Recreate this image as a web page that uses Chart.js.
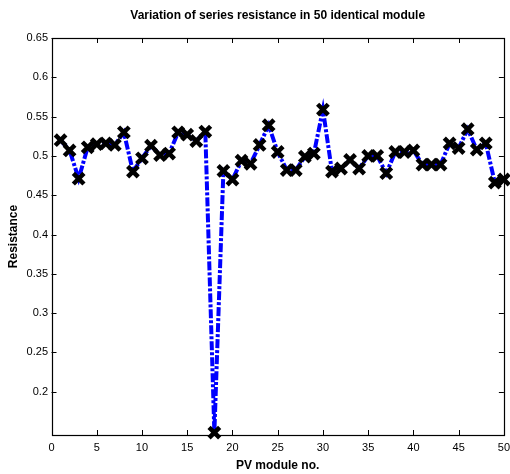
<!DOCTYPE html>
<html>
<head>
<meta charset="utf-8">
<script src="https://cdn.jsdelivr.net/npm/chart.js@4/dist/chart.umd.min.js"></script>
<style>
html,body{margin:0;padding:0;background:#fff;}
#wrap{width:510px;height:474px;}
</style>
</head>
<body>
<div id="wrap"><canvas id="c" width="510" height="474"></canvas></div>
<script>
const titleText = "Variation of series resistance in 50 identical module";
const xTitle = "PV module no.";
const yTitle = "Resistance";
const moduleNo = [1,2,3,4,5,6,7,8,9,10,11,12,13,14,15,16,17,18,19,20,21,22,23,24,25,26,27,28,29,30,31,32,33,34,35,36,37,38,39,40,41,42,43,44,45,46,47,48,49,50];
const resistance = [0.520,0.507,0.471,0.511,0.515,0.516,0.514,0.530,0.480,0.497,
                    0.513,0.501,0.503,0.530,0.527,0.519,0.531,0.148,0.481,0.470,
                    0.494,0.490,0.514,0.539,0.505,0.482,0.482,0.499,0.503,0.559,
                    0.480,0.484,0.495,0.484,0.500,0.500,0.478,0.505,0.505,0.507,
                    0.489,0.489,0.489,0.516,0.510,0.534,0.508,0.516,0.466,0.470];
const xTicks = [0,5,10,15,20,25,30,35,40,45,50];
const yTicks = [0.2,0.25,0.3,0.35,0.4,0.45,0.5,0.55,0.6,0.65];
const xRange = [0, 50];
const yRange = [0.145, 0.65];

Chart.defaults.font.family = "'Liberation Sans', Arial, sans-serif";
Chart.defaults.color = '#000';

const framePlugin = {
  id: 'frame',
  afterDatasetsDraw(chart) {
    const ctx = chart.ctx;
    const a = chart.chartArea;
    const xs = chart.scales.x, ys = chart.scales.y;
    const L = 5;
    ctx.save();
    ctx.strokeStyle = '#000';
    ctx.lineWidth = 1;
    ctx.beginPath();
    xTicks.forEach(v => {
      const px = Math.round(xs.getPixelForValue(v)) + 0.5;
      ctx.moveTo(px, a.bottom); ctx.lineTo(px, a.bottom - L);
      ctx.moveTo(px, a.top); ctx.lineTo(px, a.top + L);
    });
    yTicks.forEach(v => {
      const py = Math.round(ys.getPixelForValue(v)) + 0.5;
      ctx.moveTo(a.left, py); ctx.lineTo(a.left + L, py);
      ctx.moveTo(a.right, py); ctx.lineTo(a.right - L, py);
    });
    ctx.stroke();
    ctx.lineWidth = 1.2;
    ctx.strokeRect(Math.round(a.left) + 0.5, Math.round(a.top) + 0.5,
                   Math.round(a.right - a.left), Math.round(a.bottom - a.top));
    ctx.restore();
  }
};

new Chart(document.getElementById('c'), {
  type: 'line',
  data: {
    datasets: [{
      data: moduleNo.map((m, i) => ({x: m, y: resistance[i]})),
      borderColor: '#0000ff',
      borderWidth: 4,
      borderDash: [9, 2, 3, 2],
      tension: 0,
      fill: false,
      clip: false,
      pointStyle: 'crossRot',
      pointRadius: 7.5,
      pointHoverRadius: 7.5,
      pointBorderColor: '#000',
      pointBackgroundColor: '#000',
      pointBorderWidth: 4.5
    }]
  },
  options: {
    responsive: false,
    animation: false,
    devicePixelRatio: 1,
    layout: { autoPadding: false, padding: { left: 0, right: 1, top: 0, bottom: 0 } },
    plugins: {
      legend: { display: false },
      tooltip: { enabled: false },
      title: {
        display: true,
        text: titleText,
        fullSize: false,
        color: '#000',
        font: { size: 12, weight: 'bold' },
        padding: { top: 8, bottom: 15.6 }
      }
    },
    scales: {
      x: {
        type: 'linear',
        min: xRange[0], max: xRange[1],
        afterBuildTicks: s => { s.ticks = xTicks.map(v => ({value: v})); },
        afterFit: s => { s.height = 39; },
        grid: { display: false, drawTicks: true, tickLength: 6 },
        border: { display: false },
        ticks: { padding: 0, maxRotation: 0, autoSkip: false, font: { size: 11 }, color: '#000',
                 callback: v => String(v) },
        title: { display: true, text: xTitle, font: { size: 12, weight: 'bold' }, color: '#000',
                 padding: { top: 0, bottom: 1 } }
      },
      y: {
        type: 'linear',
        min: yRange[0], max: yRange[1],
        afterBuildTicks: s => { s.ticks = yTicks.map(v => ({value: v})); },
        afterFit: s => { s.width = 51.5; },
        grid: { display: false, drawTicks: false },
        border: { display: false },
        ticks: { padding: 3.5, autoSkip: false, font: { size: 11 }, color: '#000',
                 callback: v => String(Math.round(v * 100) / 100) },
        title: { display: true, text: yTitle, font: { size: 12, weight: 'bold' }, color: '#000',
                 padding: { top: 6, bottom: 0 } }
      }
    }
  },
  plugins: [framePlugin]
});
</script>
</body>
</html>
